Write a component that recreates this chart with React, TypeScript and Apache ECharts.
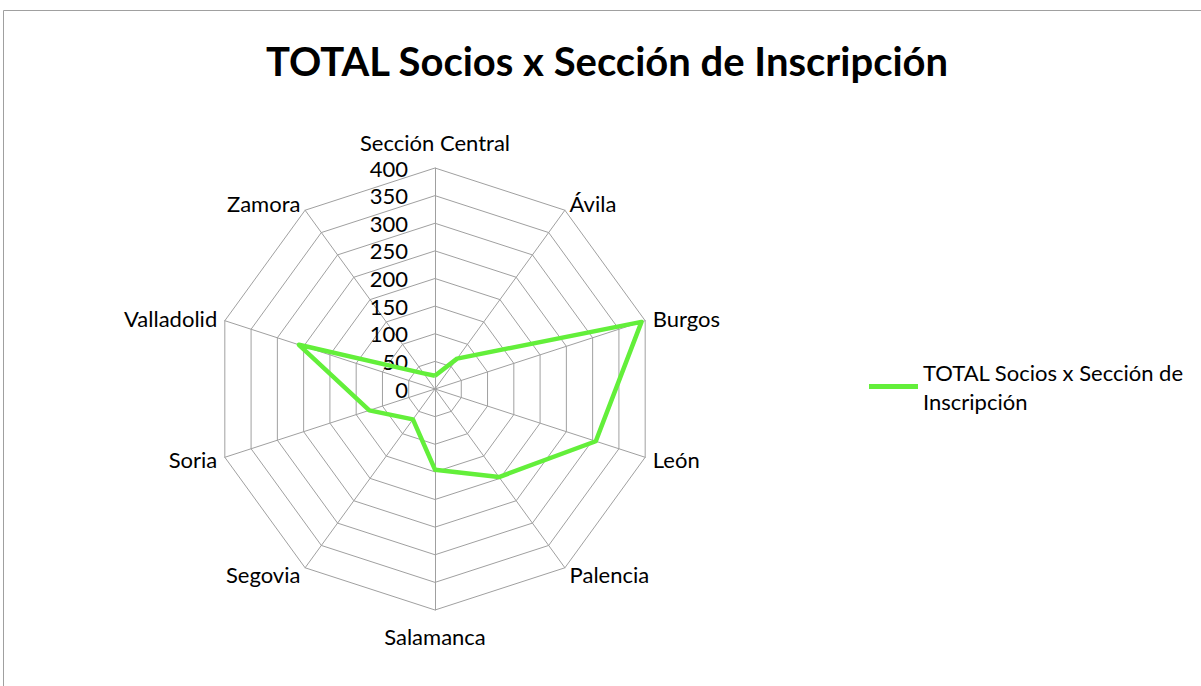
import React, { useEffect, useRef } from "react";
import * as echarts from "echarts";

const categories = [
  "Sección Central",
  "Ávila",
  "Burgos",
  "León",
  "Palencia",
  "Salamanca",
  "Segovia",
  "Soria",
  "Valladolid",
  "Zamora",
];
const seriesName = "TOTAL Socios x Sección de Inscripción";
const values = [24, 68, 393, 306, 197, 146, 68, 125, 259, 35];
const axisMax = 400;
const axisSplits = 8;

// ECharts radar runs counter-clockwise; reorder so the categories go clockwise.
const order = [0, ...categories.map((_, i) => i).slice(1).reverse()];

export default function App() {
  const ref = useRef<HTMLDivElement>(null);
  useEffect(() => {
    if (!ref.current) return;
    const chart = echarts.init(ref.current, null, { renderer: "svg" });
    const font = "Lato";
    chart.setOption({
      animation: false,
      backgroundColor: "#ffffff",
      title: {
        text: "TOTAL Socios x Sección de Inscripción",
        left: 602,
        top: 36,
        textAlign: "center",
        textStyle: { fontFamily: font, fontSize: 40, fontWeight: "bold", color: "#000" },
      },
      legend: {
        data: [seriesName],
        left: 864,
        top: 338,
        orient: "vertical",
        icon: "rect",
        itemWidth: 49,
        itemHeight: 5,
        itemGap: 6,
        formatter: () => "TOTAL Socios x Sección de\nInscripción",
        textStyle: {
          fontFamily: font,
          fontSize: 22,
          color: "#000",
          lineHeight: 29,
          padding: [29, 0, 0, 0],
        },
      },
      graphic: [
        {
          type: "rect",
          shape: { x: 3.5, y: 10.5, width: 1300, height: 800 },
          style: { fill: "none", stroke: "#a0a0a0", lineWidth: 1 },
          silent: true,
        },
      ],
      radar: [
        {
          center: [435, 389],
          radius: 221,
          startAngle: 90,
          splitNumber: axisSplits,
          shape: "polygon",
          indicator: order.map((i) => ({ name: categories[i], min: 0, max: axisMax })),
          axisName: {
            color: "#000",
            fontFamily: font,
            fontSize: 22,
            padding: [7, 0, 7, 0],
          },
          nameGap: 8,
          axisLine: { lineStyle: { color: "#a0a0a0", width: 1 } },
          splitLine: { lineStyle: { color: "#a0a0a0", width: 1 } },
          splitArea: { show: false },
          axisTick: { show: false },
          axisLabel: { show: false },
        },
        {
          center: [435, 389],
          radius: 221,
          startAngle: 90,
          splitNumber: axisSplits,
          shape: "polygon",
          indicator: [{ name: "", min: 0, max: axisMax }],
          axisName: { show: false },
          axisLine: { show: false },
          splitLine: { show: false },
          splitArea: { show: false },
          axisTick: { show: false },
          axisLabel: {
            show: true,
            color: "#000",
            fontFamily: font,
            fontSize: 22,
            margin: 27,
          },
        },
      ],
      series: [
        {
          type: "radar",
          name: seriesName,
          radarIndex: 0,
          symbol: "none",
          lineStyle: { color: "#63EF3A", width: 4.5 },
          itemStyle: { color: "#63EF3A" },
          data: [{ value: order.map((i) => values[i]), name: seriesName }],
        },
      ],
    });
    return () => chart.dispose();
  }, []);
  return (
    <div
      ref={ref}
      style={{ position: "fixed", left: 0, top: 0, width: 1201, height: 686 }}
    />
  );
}
